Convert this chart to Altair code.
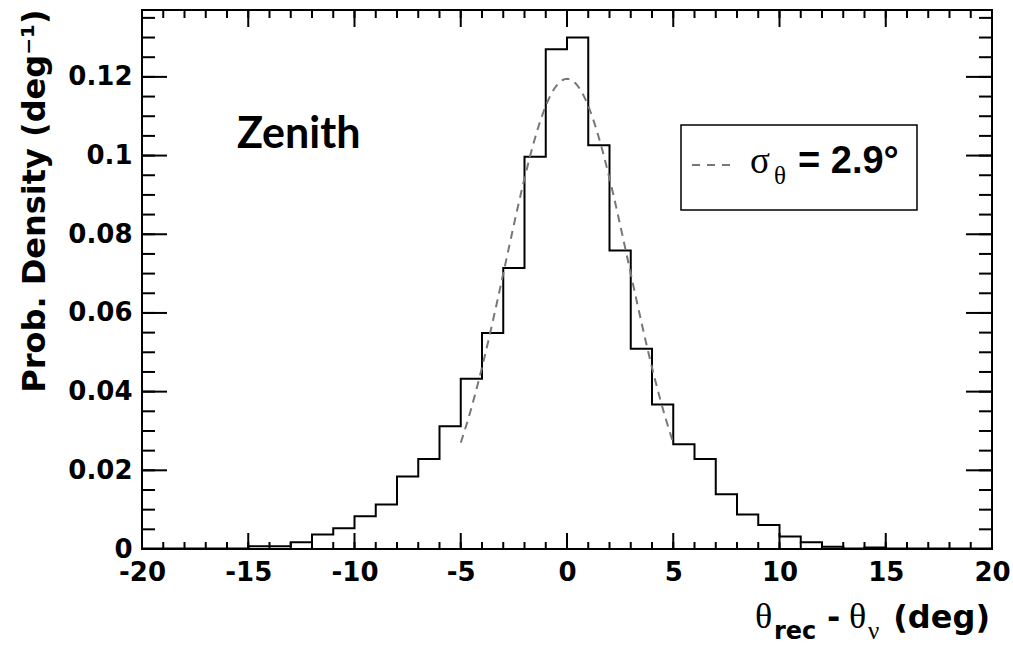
import altair as alt
import numpy as np
import pandas as pd

# Histogram of reconstructed minus true zenith angle (1 deg bins)
BIN_EDGES = list(range(-20, 21))
DENSITY = [
    0.0001, 0.0001, 0.0001, 0.0001, 0.0001,            # -20 .. -16
    0.0007, 0.0007, 0.0017, 0.0037, 0.0053,            # -15 .. -11
    0.0083, 0.0113, 0.0184, 0.0229, 0.0312,            # -10 .. -6
    0.0433, 0.0549, 0.0714, 0.0997, 0.1270,            # -5 .. -1
    0.1300, 0.1026, 0.0759, 0.0509, 0.0367,            # 0 .. 4
    0.0266, 0.0229, 0.0139, 0.0088, 0.0061,            # 5 .. 9
    0.0032, 0.0017, 0.0006, 0.0001, 0.0004,            # 10 .. 14
    0.0001, 0.0001, 0.0001, 0.0001, 0.0001,            # 15 .. 19
]

# Gaussian fit drawn over the core of the distribution
FIT_SIGMA = 2.9
FIT_PEAK = 0.1195
FIT_RANGE = (-5.0, 5.0)

# Axis tick positions
X_MAJOR = [-20, -15, -10, -5, 0, 5, 10, 15, 20]
X_MINOR = list(range(-20, 21))
Y_MAJOR = [0, 0.02, 0.04, 0.06, 0.08, 0.10, 0.12]
Y_MINOR = [round(0.005 * k, 3) for k in range(28)]

X_DOMAIN = [-20, 20]
Y_DOMAIN = [0, 0.137]

W, H = 850, 539
BOLD = "DejaVu Sans"

hist = pd.DataFrame({"x": BIN_EDGES, "y": DENSITY + [DENSITY[-1]]})
fx = np.linspace(FIT_RANGE[0], FIT_RANGE[1], 201)
fit = pd.DataFrame({"x": fx, "y": FIT_PEAK * np.exp(-fx ** 2 / (2 * FIT_SIGMA ** 2))})

xs = alt.Scale(domain=X_DOMAIN, nice=False, zero=False)
ys = alt.Scale(domain=Y_DOMAIN, nice=False, zero=False)

x_axis = alt.Axis(
    values=X_MAJOR, title=None, ticks=False, domain=False, grid=False,
    labelFont=BOLD, labelFontWeight="bold", labelFontSize=26, labelColor="black",
    labelPadding=10, labelFlush=False, labelOverlap=False,
    labelExpr="'' + datum.value",
)
y_axis = alt.Axis(
    values=Y_MAJOR, title=None, ticks=False, domain=False, grid=False,
    labelFont=BOLD, labelFontWeight="bold", labelFontSize=26, labelColor="black",
    labelPadding=10, labelFlush=False, labelOverlap=False,
    labelExpr="format(datum.value, '~g')",
)


def X(field):
    return alt.X(field, scale=xs, axis=x_axis)


def Y(field):
    return alt.Y(field, scale=ys, axis=y_axis)


histogram = alt.Chart(hist).mark_line(
    interpolate="step-after", color="black", strokeWidth=2
).encode(x=X("x:Q"), y=Y("y:Q"))

gauss = alt.Chart(fit).mark_line(
    color="#777777", strokeWidth=2, strokeDash=[8, 6]
).encode(x=X("x:Q"), y=Y("y:Q"))


def xticks(values, length, top):
    df = pd.DataFrame({"x": values})
    if top:
        y0, y1 = 0, length
    else:
        y0, y1 = H, H - length
    return alt.Chart(df).mark_rule(color="black", strokeWidth=2).encode(
        x=X("x:Q"), y=alt.value(y0), y2=alt.value(y1),
    )


def yticks(values, length, right):
    df = pd.DataFrame({"y": values})
    if right:
        x0, x1 = W, W - length
    else:
        x0, x1 = 0, length
    return alt.Chart(df).mark_rule(color="black", strokeWidth=2).encode(
        y=Y("y:Q"), x=alt.value(x0), x2=alt.value(x1),
    )


ticks = [
    xticks(X_MINOR, 7, False), xticks(X_MAJOR, 16, False),
    xticks(X_MINOR, 8, True), xticks(X_MAJOR, 17, True),
    yticks(Y_MINOR, 13, False), yticks(Y_MAJOR, 25, False),
    yticks(Y_MINOR, 13, True), yticks(Y_MAJOR, 26, True),
]


def label(text, x, y, font, size, weight="normal", align="left", baseline="alphabetic", angle=0, color="black"):
    return alt.Chart(pd.DataFrame({"t": [text]})).mark_text(
        font=font, fontSize=size, fontWeight=weight, align=align,
        baseline=baseline, angle=angle, color=color,
    ).encode(text="t:N", x=alt.value(x), y=alt.value(y))


one = pd.DataFrame({"k": [0]})

# Legend box with the fit's dashed sample line
legend_box = alt.Chart(one).mark_rect(
    fill="white", stroke="black", strokeWidth=1.5
).encode(x=alt.value(539), x2=alt.value(775), y=alt.value(115), y2=alt.value(200))
legend_line = alt.Chart(one).mark_rule(
    color="#777777", strokeWidth=2, strokeDash=[8, 7]
).encode(x=alt.value(550), x2=alt.value(594), y=alt.value(155))

texts = [
    label("Zenith", 95, 138, "Lato", 43, weight="bold"),
    label("σ", 608, 163, "Liberation Serif", 37),
    label("θ", 632, 174, "Liberation Serif", 25),
    label("= 2.9°", 656, 163, "Liberation Sans", 38, weight="bold"),
    # x-axis title: θ_rec - θ_ν (deg)
    label("θ", 613, 618, "Liberation Serif", 36),
    label("rec", 632, 629, BOLD, 24, weight="bold"),
    label("-", 685, 618, BOLD, 32, weight="bold"),
    label("θ", 707, 618, "Liberation Serif", 36),
    label("ν", 726, 629, "Liberation Serif", 25),
    label("(deg)", 848, 618, BOLD, 32, weight="bold", align="right"),
    # y-axis title
    label("Prob. Density (deg⁻¹)", -97, 191, BOLD, 32, weight="bold",
          align="center", angle=270),
]

chart = alt.layer(
    histogram, gauss, *ticks, legend_box, legend_line, *texts
).properties(
    width=W, height=H,
    autosize=alt.AutoSizeParams(type="none"),
    padding={"left": 142, "top": 10, "right": 21, "bottom": 96},
    background="white",
).configure_view(stroke="black", strokeWidth=2)

chart.save("out.html", embed_options={"renderer": "svg", "actions": False})
